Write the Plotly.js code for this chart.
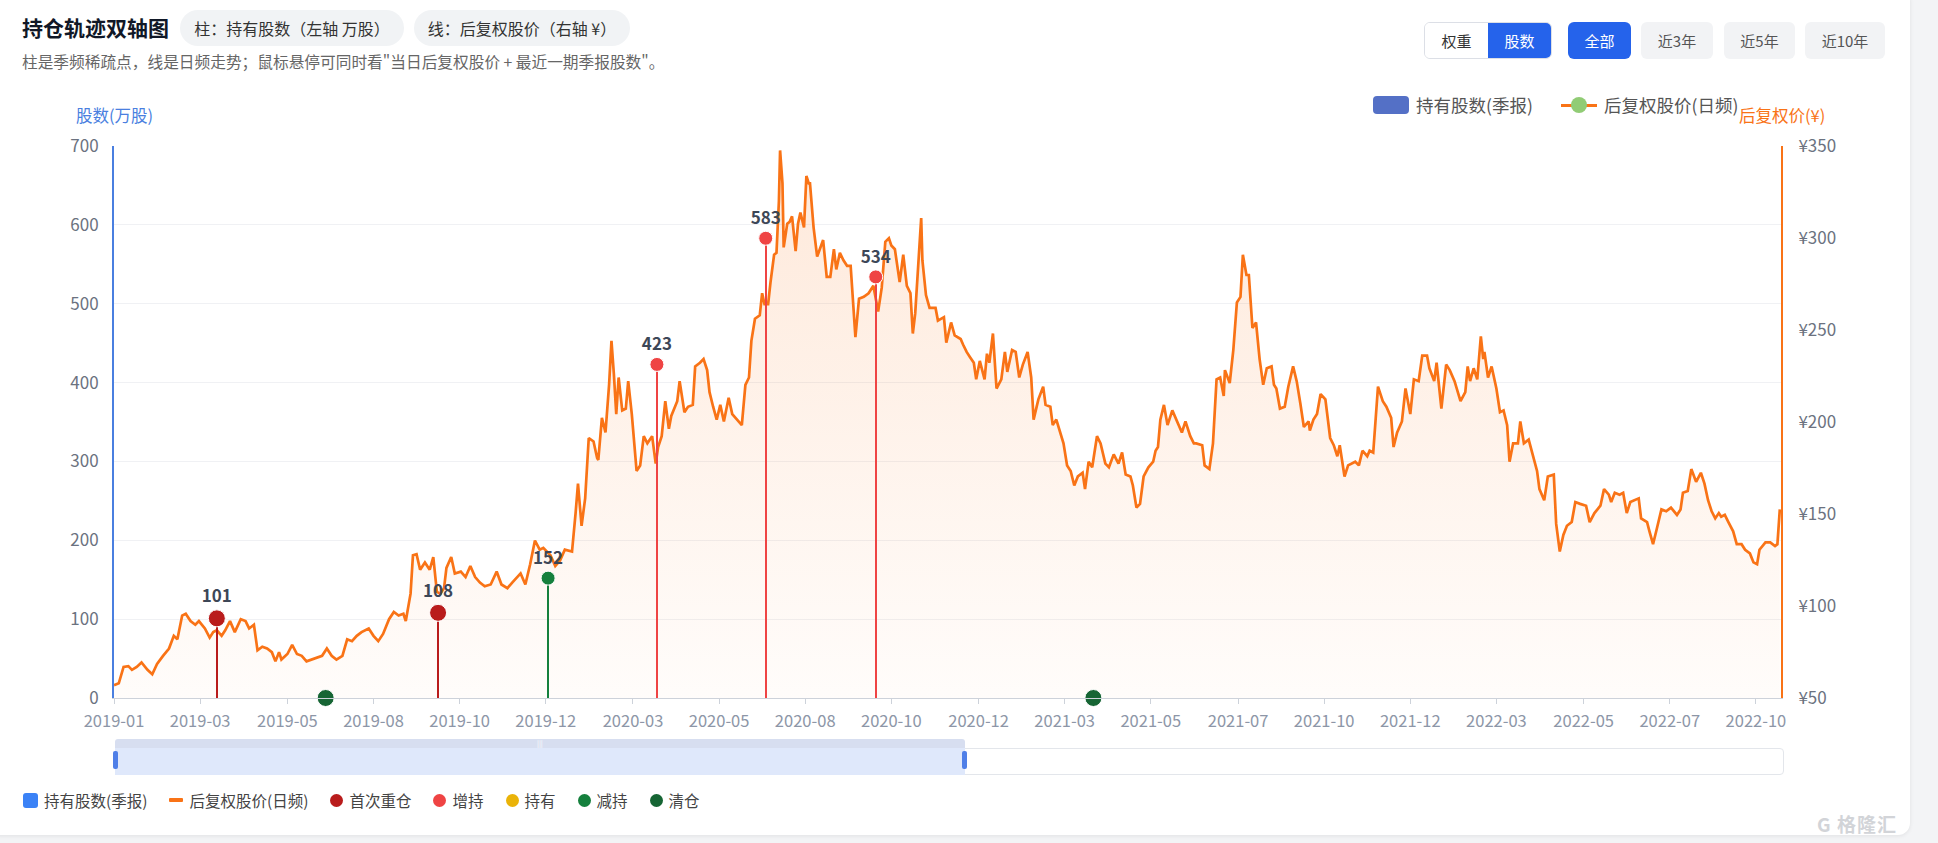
<!DOCTYPE html>
<html lang="zh-CN">
<head>
<meta charset="utf-8">
<title>持仓轨迹双轴图</title>
<script src="https://cdn.plot.ly/plotly-3.0.1.min.js"></script>
<style>
  html, body { margin:0; padding:0; width:1938px; height:843px; overflow:hidden; background:#f3f4f6;
    font-family:"Noto Sans CJK SC","Noto Sans",sans-serif; }
  #card { position:absolute; left:-12px; top:-12px; width:1922px; height:847px; background:#fff;
    border-radius:12px; box-shadow:0 1px 4px rgba(0,0,0,0.08); }
  #chart { position:absolute; left:0; top:0; width:1938px; height:843px; }
  .abs { position:absolute; white-space:nowrap; }
  #title { left:22px; top:11px; height:32px; line-height:32px; font-size:21px; font-weight:700; color:#111827; }
  .pill { top:10px; height:36px; line-height:36px; border-radius:18px; background:#f1f3f5; color:#333;
    font-size:16px; text-align:center; }
  #sub { left:22px; top:51px; height:22px; line-height:22px; font-size:15.7px; color:#666; }
  .btn { top:22px; height:37px; line-height:37px; border-radius:6px; font-size:15px; text-align:center; box-sizing:border-box; }
  .blue { background:#2563eb; color:#fff; }
  .gray { background:#f2f3f5; color:#555; }
  #seg { left:1424px; top:22px; width:128px; height:37px; border:1px solid #dcdfe6; border-radius:6px;
    overflow:hidden; box-sizing:border-box; display:flex; font-size:15px; }
  #seg div { flex:1; text-align:center; line-height:35px; }
  .lg { top:93px; height:24px; line-height:24px; font-size:17.5px; color:#555; }
  #blegend { left:23px; top:789px; height:22px; display:flex; align-items:center; font-size:15.5px; color:#444; }
  #blegend .it { display:flex; align-items:center; margin-right:22px; }
  #blegend .ic { margin-right:6px; }
  .sq { width:15px; height:15px; border-radius:3px; }
  .dash { width:14px; height:4px; border-radius:1px; }
  .dot { width:13px; height:13px; border-radius:50%; }
  #wm { left:1817px; top:810px; font-size:19px; color:#d2d4d8; font-weight:700; letter-spacing:1px; }
</style>
</head>
<body>
<div id="card"></div>
<div id="chart"></div>

<div id="title" class="abs">持仓轨迹双轴图</div>
<div class="abs pill" style="left:180px;width:224px;">柱：持有股数（左轴 万股）</div>
<div class="abs pill" style="left:414px;width:216px;">线：后复权股价（右轴 ¥）</div>
<div id="sub" class="abs">柱是季频稀疏点，线是日频走势；鼠标悬停可同时看"当日后复权股价 + 最近一期季报股数"。</div>

<div id="seg" class="abs"><div style="background:#fff;color:#333;">权重</div><div class="blue">股数</div></div>
<div class="abs btn blue" style="left:1568px;width:63px;">全部</div>
<div class="abs btn gray" style="left:1641px;width:72px;">近3年</div>
<div class="abs btn gray" style="left:1724px;width:71px;">近5年</div>
<div class="abs btn gray" style="left:1805px;width:80px;">近10年</div>

<div class="abs" style="left:1373px;top:96px;width:36px;height:18px;border-radius:4px;background:#5470c6;"></div>
<div class="abs lg" style="left:1416px;">持有股数(季报)</div>
<div class="abs" style="left:1561px;top:103.5px;width:36px;height:3px;background:#f97316;"></div>
<div class="abs" style="left:1571px;top:97px;width:16px;height:16px;border-radius:50%;background:#91cc75;"></div>
<div class="abs lg" style="left:1604px;">后复权股价(日频)</div>

<!-- data zoom slider -->
<div class="abs" style="left:115px;top:748px;width:1669px;height:27px;border:1px solid #e3e6eb;border-radius:4px;box-sizing:border-box;background:#fff;"></div>
<div class="abs" style="left:115px;top:748px;width:850px;height:27px;background:#dfe8fb;"></div>
<div class="abs" style="left:115px;top:739px;width:850px;height:9px;background:#d7def0;border-radius:3px 3px 0 0;"></div>
<div class="abs" style="left:537px;top:740px;font-size:7px;line-height:7px;color:#fff;">|||</div>
<div class="abs" style="left:113px;top:751px;width:5px;height:18px;border-radius:2px;background:#4f7fe8;"></div>
<div class="abs" style="left:962px;top:751px;width:5px;height:18px;border-radius:2px;background:#4f7fe8;"></div>

<div id="blegend" class="abs">
  <div class="it"><div class="ic sq" style="background:#3b82f6;"></div>持有股数(季报)</div>
  <div class="it"><div class="ic dash" style="background:#f97316;"></div>后复权股价(日频)</div>
  <div class="it"><div class="ic dot" style="background:#b91c1c;"></div>首次重仓</div>
  <div class="it"><div class="ic dot" style="background:#ef4444;"></div>增持</div>
  <div class="it"><div class="ic dot" style="background:#eab308;"></div>持有</div>
  <div class="it"><div class="ic dot" style="background:#15803d;"></div>减持</div>
  <div class="it"><div class="ic dot" style="background:#166534;"></div>清仓</div>
</div>
<div id="wm" class="abs">G 格隆汇</div>

<script>
// ---------------- data ----------------
const price2019 = [
 ['2019-01-02',57.0],['2019-01-06',58.0],['2019-01-10',66.9],['2019-01-14',67.3],['2019-01-17',65.3],['2019-01-21',66.9],['2019-01-25',69.3],['2019-01-30',65.3],
 ['2019-02-03',62.9],['2019-02-07',68.5],['2019-02-12',72.9],['2019-02-17',76.9],['2019-02-21',83.8],['2019-02-24',81.9],['2019-02-28',94.8],
 ['2019-03-03',95.8],['2019-03-07',91.8],['2019-03-11',89.8],['2019-03-14',91.8],['2019-03-19',87.8],['2019-03-23',82.8],['2019-03-26',85.8],['2019-03-29',86.8],
 ['2019-04-02',83.8],['2019-04-05',86.8],['2019-04-09',91.8],['2019-04-13',85.8],['2019-04-18',92.8],['2019-04-22',91.8],['2019-04-25',87.8],['2019-04-29',89.8],
 ['2019-05-02',75.9],['2019-05-06',77.9],['2019-05-10',76.9],['2019-05-14',74.9],['2019-05-17',69.9],['2019-05-20',74.9],['2019-05-22',70.9],['2019-05-27',73.9],['2019-05-31',78.9],
 ['2019-06-04',73.9],['2019-06-08',72.9],['2019-06-12',69.9],['2019-06-17',70.9],['2019-06-21',71.9],['2019-06-25',72.9],['2019-06-29',76.9],
 ['2019-07-03',72.9],['2019-07-07',70.9],['2019-07-12',72.9],['2019-07-16',81.9],['2019-07-20',80.9],['2019-07-24',83.8],['2019-07-28',85.8],
 ['2019-08-03',87.8],['2019-08-07',83.8],['2019-08-11',80.9],['2019-08-15',84.8],['2019-08-20',92.8],['2019-08-24',96.8],['2019-08-28',94.8],
 ['2019-09-01',95.8],['2019-09-03',91.8],['2019-09-07',106.7],['2019-09-09',127.6],['2019-09-12',128.2],['2019-09-15',119.7],['2019-09-19',123.7],['2019-09-23',119.7],['2019-09-26',126.6],['2019-09-29',107.7],
 ['2019-10-02',106.7],['2019-10-05',109.7],['2019-10-07',120.7],['2019-10-11',126.6],['2019-10-14',117.7],['2019-10-19',118.7],['2019-10-23',115.7],['2019-10-27',121.7],['2019-10-31',115.7],
 ['2019-11-04',112.7],['2019-11-08',110.7],['2019-11-13',111.7],['2019-11-18',118.7],['2019-11-22',111.7],['2019-11-27',109.7],
 ['2019-12-01',112.7],['2019-12-05',115.7],['2019-12-08',117.7],['2019-12-12',111.7],['2019-12-16',122.7],['2019-12-20',135.6],['2019-12-24',130.6],['2019-12-27',131.6]
];
const price2020 = [
 ['2020-01-02',127.6],['2020-01-06',121.7],['2020-01-10',124.7],['2020-01-14',130.6],['2020-01-20',129.6],['2020-01-23',150.5],['2020-01-25',166.5],['2020-01-28',143.6],['2020-01-31',158.5],
 ['2020-02-03',191.3],['2020-02-07',189.4],['2020-02-10',180.4],['2020-02-11',179.4],['2020-02-14',202.3],['2020-02-17',194.3],['2020-02-20',220.2],['2020-02-22',244.1],['2020-02-24',226.2],['2020-02-26',204.3],['2020-02-28',224.2],
 ['2020-03-02',206.3],['2020-03-05',207.3],['2020-03-07',222.2],['2020-03-10',204.3],['2020-03-14',173.4],['2020-03-17',176.4],['2020-03-20',192.3],['2020-03-23',188.4],['2020-03-27',192.3],['2020-03-30',177.4],
 ['2020-04-01',186.4],['2020-04-04',192.3],['2020-04-07',211.3],['2020-04-10',196.3],['2020-04-12',203.3],['2020-04-17',211.3],['2020-04-19',222.2],['2020-04-23',205.3],['2020-04-26',208.3],['2020-04-30',209.3],
 ['2020-05-02',230.2],['2020-05-06',232.2],['2020-05-09',234.2],['2020-05-12',228.2],['2020-05-14',216.2],['2020-05-17',208.3],['2020-05-20',201.3],['2020-05-23',209.3],['2020-05-26',200.3],['2020-05-30',213.2],
 ['2020-06-02',204.3],['2020-06-06',201.3],['2020-06-10',198.3],['2020-06-13',220.2],['2020-06-16',224.2],['2020-06-18',244.1],['2020-06-21',256.1],['2020-06-25',258.0],['2020-06-27',270.0],['2020-06-29',264.0],
 ['2020-07-02',264.0],['2020-07-04',276.0],['2020-07-07',290.9],['2020-07-09',291.9],['2020-07-11',319.8],['2020-07-12',347.6],['2020-07-14',329.7],['2020-07-15',294.9],['2020-07-18',307.8],['2020-07-20',308.8],['2020-07-22',311.8],['2020-07-25',292.9],['2020-07-27',307.8],['2020-07-29',313.8],
 ['2020-08-01',305.8],['2020-08-03',333.7],['2020-08-05',329.7],['2020-08-06',329.7],['2020-08-09',305.8],['2020-08-12',289.9],['2020-08-17',298.9],['2020-08-20',278.9],['2020-08-23',278.9],['2020-08-26',293.9],['2020-08-28',282.9],['2020-08-31',291.9],
 ['2020-09-03',287.9],['2020-09-06',284.9],['2020-09-09',284.9],['2020-09-13',246.1],['2020-09-16',267.0],['2020-09-20',268.0],['2020-09-24',270.0],['2020-09-28',274.0],['2020-09-30',267.0],
 ['2020-10-02',260.0],['2020-10-05',273.0],['2020-10-08',297.9],['2020-10-11',299.9],['2020-10-13',295.9],['2020-10-16',293.9],['2020-10-20',276.0],['2020-10-23',290.9],['2020-10-26',274.0],['2020-10-29',270.0],['2020-10-31',248.1],
 ['2020-11-02',259.0],['2020-11-05',289.9],['2020-11-07',310.8],['2020-11-08',287.9],['2020-11-11',269.0],['2020-11-14',262.0],['2020-11-19',262.0],['2020-11-21',255.1],['2020-11-26',257.0],['2020-11-28',243.1],
 ['2020-12-02',254.1],['2020-12-05',247.1],['2020-12-10',245.1],['2020-12-12',242.1],['2020-12-15',238.1],['2020-12-18',235.1],['2020-12-21',232.2],['2020-12-23',223.2],['2020-12-26',233.2],['2020-12-30',223.2]
];
const price2021 = [
 ['2021-01-01',237.1],['2021-01-03',232.2],['2021-01-06',248.1],['2021-01-09',218.2],['2021-01-13',223.2],['2021-01-16',238.1],['2021-01-18',227.2],['2021-01-22',239.1],['2021-01-25',238.1],['2021-01-28',224.2],['2021-01-31',231.2],
 ['2021-02-04',238.1],['2021-02-07',224.2],['2021-02-09',201.3],['2021-02-13',212.3],['2021-02-17',219.2],['2021-02-19',209.3],['2021-02-23',208.3],['2021-02-25',198.3],['2021-02-28',201.3],
 ['2021-03-03',194.3],['2021-03-06',188.4],['2021-03-09',176.4],['2021-03-12',173.4],['2021-03-15',165.5],['2021-03-18',170.4],['2021-03-22',172.4],['2021-03-24',163.5],['2021-03-27',178.4],['2021-03-30',175.4],
 ['2021-04-03',192.3],['2021-04-06',188.4],['2021-04-10',177.4],['2021-04-13',175.4],['2021-04-17',182.4],['2021-04-21',177.4],['2021-04-24',183.4],['2021-04-27',171.4],
 ['2021-05-01',170.4],['2021-05-03',165.5],['2021-05-06',153.5],['2021-05-09',155.5],['2021-05-12',170.4],['2021-05-16',175.4],['2021-05-20',178.4],['2021-05-22',184.4],['2021-05-24',186.4],['2021-05-26',201.3],['2021-05-29',209.3],
 ['2021-06-01',198.3],['2021-06-05',206.3],['2021-06-09',200.3],['2021-06-13',194.3],['2021-06-16',200.3],['2021-06-20',192.3],['2021-06-23',188.4],['2021-06-25',188.4],['2021-06-30',187.4],
 ['2021-07-02',176.4],['2021-07-06',174.4],['2021-07-09',188.4],['2021-07-12',223.2],['2021-07-15',224.2],['2021-07-18',214.2],['2021-07-19',228.2],['2021-07-23',221.2],['2021-07-26',239.1],['2021-07-29',265.0],
 ['2021-08-01',268.0],['2021-08-03',290.9],['2021-08-06',279.9],['2021-08-08',279.9],['2021-08-11',251.1],['2021-08-14',254.1],['2021-08-17',234.2],['2021-08-20',220.2],['2021-08-23',229.2],['2021-08-27',230.2],['2021-08-29',220.2],['2021-08-31',218.2],
 ['2021-09-03',207.3],['2021-09-07',208.3],['2021-09-10',219.2],['2021-09-14',230.2],['2021-09-17',222.2],['2021-09-20',210.3],['2021-09-23',197.3],['2021-09-27',200.3],['2021-09-28',195.3],
 ['2021-10-01',201.3],['2021-10-04',204.3],['2021-10-07',215.2],['2021-10-11',212.3],['2021-10-15',191.3],['2021-10-18',187.4],['2021-10-21',181.4],['2021-10-23',187.4],['2021-10-27',170.4],['2021-10-30',176.4],
 ['2021-11-05',178.4],['2021-11-08',176.4],['2021-11-11',184.4],['2021-11-15',181.4],['2021-11-17',184.4],['2021-11-20',183.4],['2021-11-24',219.2],['2021-11-28',211.3],
 ['2021-12-01',208.3],['2021-12-05',202.3],['2021-12-07',186.4],['2021-12-10',194.3],['2021-12-14',200.3],['2021-12-17',218.2],['2021-12-21',204.3],['2021-12-24',223.2],['2021-12-28',222.2],['2021-12-31',236.1]
];
const price2022 = [
 ['2022-01-04',236.1],['2022-01-06',229.2],['2022-01-10',222.2],['2022-01-12',232.2],['2022-01-16',207.3],['2022-01-20',231.2],['2022-01-23',228.2],['2022-01-27',222.2],
 ['2022-02-01',211.3],['2022-02-05',216.2],['2022-02-07',230.2],['2022-02-09',222.2],['2022-02-12',229.2],['2022-02-15',223.2],['2022-02-18',246.5],['2022-02-20',234.2],['2022-02-21',238.1],['2022-02-24',224.2],['2022-02-27',230.2],
 ['2022-03-03',218.2],['2022-03-06',205.3],['2022-03-09',206.3],['2022-03-12',198.3],['2022-03-14',178.4],['2022-03-17',188.4],['2022-03-21',188.4],['2022-03-23',200.3],['2022-03-26',188.4],['2022-03-30',190.4],
 ['2022-04-03',180.4],['2022-04-06',173.4],['2022-04-08',163.5],['2022-04-12',157.5],['2022-04-15',170.4],['2022-04-20',171.4],['2022-04-22',144.6],['2022-04-25',129.6],['2022-04-28',138.6],
 ['2022-05-01',143.6],['2022-05-05',145.6],['2022-05-08',156.5],['2022-05-12',155.5],['2022-05-17',154.5],['2022-05-20',145.6],['2022-05-24',150.5],['2022-05-29',154.5],
 ['2022-06-01',163.5],['2022-06-05',160.5],['2022-06-07',156.5],['2022-06-10',161.5],['2022-06-14',160.5],['2022-06-17',161.5],['2022-06-20',150.5],['2022-06-23',156.5],['2022-06-27',157.5],['2022-06-30',158.5],
 ['2022-07-02',147.6],['2022-07-07',145.6],['2022-07-09',140.6],['2022-07-12',133.6],['2022-07-15',141.6],['2022-07-19',152.5],['2022-07-23',151.5],['2022-07-27',153.5],
 ['2022-08-01',149.5],['2022-08-04',152.5],['2022-08-06',161.5],['2022-08-10',162.5],['2022-08-13',174.4],['2022-08-17',167.5],['2022-08-21',172.4],['2022-08-24',166.5],['2022-08-27',157.5],['2022-08-30',151.5],
 ['2022-09-02',147.6],['2022-09-05',150.5],['2022-09-07',148.5],['2022-09-10',149.5],['2022-09-13',145.6],['2022-09-17',140.6],['2022-09-20',133.6],['2022-09-24',133.6],['2022-09-27',130.6],
 ['2022-10-01',128.6],['2022-10-04',123.7],['2022-10-07',122.7],['2022-10-09',130.6],['2022-10-14',134.6],['2022-10-18',134.6],['2022-10-22',132.6],['2022-10-24',133.6],['2022-10-26',152.5]
];

// quarterly holdings (万股)
const holdDates  = ['2019-03-29','2019-06-28','2019-09-30','2019-12-31','2020-03-31','2020-06-30','2020-09-30','2021-03-31'];
const holdShares = [101, 0, 108, 152, 423, 583, 534, 0];
const holdTypes  = ['首次重仓','清仓','首次重仓','减持','增持','增持','增持','清仓'];

// x-axis tick labels and where they sit
const tickDates  = ['2019-01-02','2019-03-15','2019-05-27','2019-08-07','2019-10-18','2019-12-29','2020-03-11','2020-05-22','2020-08-02','2020-10-13',
                    '2020-12-25','2021-03-07','2021-05-18','2021-07-30','2021-10-10','2021-12-21','2022-03-03','2022-05-15','2022-07-26','2022-10-06'];
const tickLabels = ['2019-01','2019-03','2019-05','2019-08','2019-10','2019-12','2020-03','2020-05','2020-08','2020-10',
                    '2020-12','2021-03','2021-05','2021-07','2021-10','2021-12','2022-03','2022-05','2022-07','2022-10'];

// ---------------- styles ----------------
const FONT = '"Noto Sans CJK SC","Noto Sans",sans-serif';
const TYPE_STYLE = {
  '首次重仓': {color:'#b91c1c', size:17},
  '增持':     {color:'#ef4444', size:14},
  '持有':     {color:'#eab308', size:14},
  '减持':     {color:'#15803d', size:14},
  '清仓':     {color:'#166534', size:17}
};
const DAY_MS = 86400000;

const priceAll = price2019.concat(price2020, price2021, price2022);
const priceX = priceAll.map(p => p[0]);
const priceY = priceAll.map(p => p[1]);

const tracePrice = {
  type:'scatter', mode:'lines', name:'后复权股价(日频)',
  x: priceX, y: priceY, yaxis:'y',
  line:{color:'#f97316', width:2.7},
  fill:'tozeroy',
  fillgradient:{type:'vertical', start:50, stop:350,
    colorscale:[[0,'rgba(249,115,22,0.02)'],[1,'rgba(249,115,22,0.16)']]},
  hoverinfo:'skip'
};

const traceBars = {
  type:'bar', name:'持有股数(季报)',
  x: holdDates, y: holdShares, yaxis:'y2',
  width: 1.3*DAY_MS,
  marker:{color: holdTypes.map(t => TYPE_STYLE[t].color), line:{width:0}},
  hoverinfo:'skip'
};

const traceDots = {
  type:'scatter', mode:'markers+text', name:'持仓状态',
  x: holdDates, y: holdShares, yaxis:'y2',
  text: holdShares.map(v => v > 0 ? String(v) : ''),
  textposition:'top center',
  textfont:{family:FONT, size:17, color:'#3d4757', weight:700},
  marker:{size: holdTypes.map(t => TYPE_STYLE[t].size),
          color: holdTypes.map(t => TYPE_STYLE[t].color),
          opacity:1,
          line:{color:'#ffffff', width:1}},
  cliponaxis:false,
  hoverinfo:'skip'
};

const layout = {
  width:1938, height:843,
  margin:{l:114, r:157, t:146, b:145, pad:0},
  paper_bgcolor:'rgba(0,0,0,0)', plot_bgcolor:'rgba(0,0,0,0)',
  showlegend:false,
  font:{family:FONT, color:'#6b7280', size:17},
  bargap:0,
  xaxis:{
    type:'date', range:['2019-01-02','2022-10-27'],
    tickmode:'array', tickvals:tickDates, ticktext:tickLabels,
    ticks:'outside', ticklen:5, tickcolor:'#cdd2da', tickwidth:1,
    ticklabelstandoff:3,
    showline:true, linecolor:'#cdd2da', linewidth:1,
    showgrid:false, zeroline:false,
    tickfont:{family:FONT, size:16.5, color:'#8d96a7'}
  },
  yaxis:{
    side:'right', range:[50,350], tick0:50, dtick:50, tickprefix:'¥',
    showgrid:false, zeroline:false,
    showline:true, linecolor:'#f97316', linewidth:2,
    ticks:'', ticklabelstandoff:12,
    tickfont:{family:FONT, size:17, color:'#6b7280'}
  },
  yaxis2:{
    overlaying:'y', side:'left', range:[0,700], tick0:0, dtick:100,
    showgrid:true, gridcolor:'#f0f1f4', gridwidth:1, zeroline:false,
    showline:true, linecolor:'#4a7fe0', linewidth:2,
    ticks:'', ticklabelstandoff:10,
    tickfont:{family:FONT, size:17, color:'#6b7280'}
  },
  annotations:[
    {xref:'paper', yref:'paper', x:(74-114)/1667, y:(698.4-115)/552, xanchor:'left', yanchor:'middle',
     text:'股数(万股)', showarrow:false, font:{family:FONT, size:16.5, color:'#4a7fe0'}},
    {xref:'paper', yref:'paper', x:(1737-114)/1667, y:(698.4-115)/552, xanchor:'left', yanchor:'middle',
     text:'后复权价(¥)', showarrow:false, font:{family:FONT, size:16.5, color:'#f97316'}}
  ]
};

Plotly.newPlot('chart', [tracePrice, traceBars, traceDots], layout, {displayModeBar:false, staticPlot:true});
</script>
</body>
</html>
